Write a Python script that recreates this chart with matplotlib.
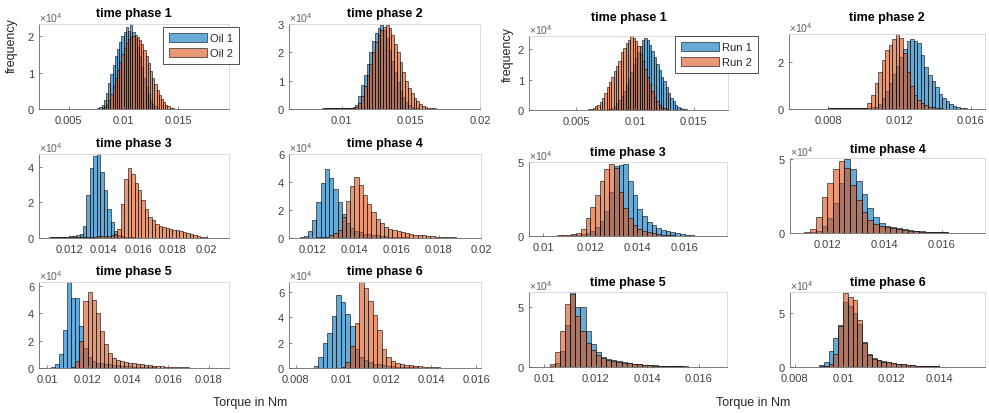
import matplotlib
matplotlib.use("Agg")
import matplotlib.pyplot as plt
import numpy as np
from matplotlib.patches import Patch

plt.rcParams['font.family'] = ['Liberation Sans', 'DejaVu Sans']
plt.rcParams['mathtext.fontset'] = 'custom'
plt.rcParams['mathtext.rm'] = 'Liberation Sans'

# ---------------- data (bin counts in units of 1e4, bin width 0.0002 Nm) ----------------
BIN = 0.0002
phase_titles = ['time phase 1', 'time phase 2', 'time phase 3',
                'time phase 4', 'time phase 5', 'time phase 6']
left_labels = ['Oil 1', 'Oil 2']
right_labels = ['Run 1', 'Run 2']

# Left group: Oil 1 / Oil 2
oil1_start = [0.0074, 0.0080, 0.0104, 0.0112, 0.0100, 0.0086]
oil1_p1 = [0.01, 0.02, 0.05, 0.12, 0.25, 0.45, 0.70, 0.95, 1.20, 1.45, 1.65, 1.85, 2.00, 2.10, 2.25,
           2.15, 2.33, 2.10, 1.95, 1.70, 1.45, 1.15, 0.85, 0.60, 0.40, 0.25, 0.14, 0.07, 0.03, 0.01]
oil1_p2 = [0.01, 0.01, 0.01, 0.02, 0.02, 0.02, 0.02, 0.02, 0.02, 0.02, 0.03, 0.03, 0.04, 0.05, 0.08,
           0.15, 0.45, 0.85, 1.20, 1.60, 2.00, 2.40, 2.70, 2.85, 2.95, 2.80, 2.50, 2.10, 1.70, 1.30,
           0.95, 0.65, 0.42, 0.26, 0.15, 0.08, 0.04, 0.02]
oil1_p3 = [0.02, 0.02, 0.03, 0.03, 0.04, 0.05, 0.06, 0.07, 0.09, 0.11, 0.15, 0.25, 0.67, 2.40, 3.90,
           4.60, 4.70, 3.70, 2.70, 1.60, 0.90, 0.40, 0.18, 0.10, 0.06, 0.04, 0.03, 0.02, 0.01]
oil1_p4 = [0.02, 0.04, 0.15, 0.50, 1.30, 2.60, 3.90, 4.95, 4.30, 3.50, 2.60, 1.70, 1.05, 0.70, 0.50,
           0.40, 0.32, 0.27, 0.22, 0.18, 0.15, 0.12, 0.10, 0.08, 0.06, 0.05, 0.04, 0.03, 0.02, 0.01]
oil1_p5 = [0.02, 0.05, 0.27, 1.00, 2.75, 6.30, 5.10, 5.10, 3.05, 1.50, 0.80, 0.50, 0.40, 0.34, 0.30,
           0.26, 0.22, 0.19, 0.16, 0.14, 0.12, 0.10, 0.08, 0.07, 0.06, 0.05, 0.04, 0.03, 0.02, 0.02, 0.01]
oil1_p6 = [0.03, 0.15, 0.90, 2.00, 2.80, 4.10, 5.75, 5.20, 4.30, 3.30, 1.50, 0.90, 0.60, 0.45, 0.35,
           0.28, 0.22, 0.18, 0.14, 0.11, 0.08, 0.06, 0.05, 0.04, 0.03, 0.02, 0.02, 0.01]

oil2_start = [0.0080, 0.0080, 0.0104, 0.0120, 0.0110, 0.0098]
oil2_p1 = [0.02, 0.05, 0.12, 0.25, 0.42, 0.62, 0.85, 1.08, 1.30, 1.50, 1.68, 1.82, 1.93, 1.98, 2.00,
           2.02, 1.98, 1.90, 1.78, 1.62, 1.45, 1.25, 1.05, 0.85, 0.68, 0.52, 0.38, 0.27, 0.18, 0.11,
           0.07, 0.04, 0.02, 0.01]
oil2_p2 = [0.01, 0.01, 0.01, 0.01, 0.02, 0.02, 0.02, 0.02, 0.02, 0.02, 0.02, 0.03, 0.03, 0.04, 0.05,
           0.06, 0.20, 0.45, 0.80, 1.20, 1.60, 2.00, 2.35, 2.60, 2.80, 2.90, 2.97, 2.85, 2.60, 2.30,
           2.00, 1.65, 1.30, 1.00, 0.75, 0.55, 0.40, 0.28, 0.19, 0.12, 0.08, 0.05, 0.03, 0.02]
oil2_p3 = [0.02, 0.02, 0.02, 0.03, 0.03, 0.03, 0.04, 0.04, 0.05, 0.05, 0.06, 0.06, 0.07, 0.07, 0.08,
           0.08, 0.09, 0.10, 0.11, 0.12, 0.14, 0.20, 0.50, 1.90, 3.30, 3.90, 3.60, 3.10, 2.70, 2.10,
           1.60, 1.20, 1.00, 0.80, 0.67, 0.62, 0.58, 0.52, 0.47, 0.42, 0.37, 0.32, 0.27, 0.22, 0.16,
           0.11, 0.07, 0.04, 0.02]
oil2_p4 = [0.03, 0.04, 0.06, 0.10, 0.20, 0.35, 0.60, 1.50, 2.65, 3.70, 4.35, 3.80, 3.10, 2.40, 1.85,
           1.35, 1.05, 0.80, 0.65, 0.55, 0.47, 0.40, 0.34, 0.29, 0.25, 0.21, 0.18, 0.15, 0.12, 0.10,
           0.08, 0.06, 0.05, 0.04, 0.03, 0.02, 0.02, 0.01]
oil2_p5 = [0.02, 0.10, 0.50, 2.00, 4.90, 5.60, 5.00, 4.00, 2.70, 1.75, 1.10, 0.75, 0.60, 0.52, 0.45,
           0.40, 0.35, 0.30, 0.26, 0.22, 0.19, 0.16, 0.14, 0.12, 0.10, 0.08, 0.07, 0.06, 0.05, 0.04,
           0.03, 0.03, 0.02, 0.02, 0.01, 0.01]
oil2_p6 = [0.02, 0.08, 0.50, 1.75, 3.55, 6.80, 6.30, 5.30, 4.20, 3.00, 1.50, 0.85, 0.55, 0.42, 0.33,
           0.26, 0.20, 0.15, 0.12, 0.09, 0.07, 0.05, 0.04, 0.03, 0.02, 0.01]

# Right group: Run 1 / Run 2
run1_start = [0.0076, 0.0070, 0.0100, 0.0112, 0.0100, 0.0088]
run1_p1 = [0.02, 0.04, 0.08, 0.14, 0.22, 0.33, 0.47, 0.63, 0.82, 1.02, 1.25, 1.48, 1.70, 1.90, 2.10,
           2.30, 2.36, 2.30, 2.15, 1.95, 1.75, 1.50, 1.30, 1.10, 0.95, 0.75, 0.55, 0.40, 0.28, 0.17,
           0.11, 0.06, 0.04, 0.02, 0.01]
run1_p2 = [0.01, 0.01, 0.02, 0.02, 0.02, 0.03, 0.03, 0.03, 0.03, 0.03, 0.03, 0.03, 0.03, 0.04, 0.04,
           0.05, 0.06, 0.08, 0.10, 0.22, 0.45, 0.75, 1.10, 1.50, 1.85, 2.20, 2.57, 2.90, 2.97, 2.90,
           2.80, 2.30, 1.80, 1.45, 1.20, 0.93, 0.65, 0.48, 0.36, 0.22, 0.14, 0.08, 0.05, 0.03, 0.02, 0.01]
run1_p3 = [0.01, 0.01, 0.01, 0.01, 0.01, 0.02, 0.04, 0.07, 0.12, 0.20, 0.35, 0.60, 1.00, 1.70, 3.00,
           4.72, 4.80, 4.88, 3.69, 2.76, 1.84, 1.34, 0.92, 0.72, 0.55, 0.42, 0.32, 0.24, 0.17, 0.12,
           0.08, 0.05, 0.03, 0.02, 0.01]
run1_p4 = [0.02, 0.05, 0.15, 0.45, 1.00, 2.00, 3.40, 5.00, 4.30, 3.50, 2.60, 1.70, 1.10, 0.70, 0.50,
           0.40, 0.32, 0.25, 0.20, 0.16, 0.12, 0.09, 0.07, 0.05, 0.04, 0.03, 0.02, 0.01]
run1_p5 = [0.01, 0.05, 0.30, 1.30, 3.50, 6.20, 5.00, 5.00, 3.00, 1.90, 1.20, 0.86, 0.64, 0.55, 0.47,
           0.40, 0.33, 0.28, 0.24, 0.20, 0.17, 0.14, 0.12, 0.10, 0.08, 0.07, 0.06, 0.05, 0.04, 0.03,
           0.02, 0.02, 0.01]
run1_p6 = [0.03, 0.15, 0.45, 1.50, 2.70, 3.90, 6.00, 5.60, 5.00, 4.00, 2.30, 1.20, 0.85, 0.65, 0.52,
           0.43, 0.36, 0.30, 0.25, 0.20, 0.16, 0.13, 0.10, 0.08, 0.06, 0.05, 0.04, 0.03, 0.02, 0.01]

run2_start = [0.0060, 0.0070, 0.0100, 0.0110, 0.0100, 0.0088]
run2_p1 = [0.02, 0.04, 0.07, 0.12, 0.18, 0.27, 0.38, 0.55, 0.75, 0.92, 1.10, 1.28, 1.45, 1.60, 1.90,
           2.05, 2.20, 2.30, 2.42, 2.35, 2.25, 2.10, 1.85, 1.60, 1.35, 1.10, 0.85, 0.62, 0.42, 0.28,
           0.17, 0.10, 0.05, 0.03, 0.01]
run2_p2 = [0.01, 0.01, 0.02, 0.02, 0.02, 0.03, 0.03, 0.03, 0.03, 0.03, 0.03, 0.03, 0.04, 0.04, 0.05,
           0.05, 0.25, 0.60, 1.10, 1.60, 2.10, 2.50, 2.75, 3.00, 3.20, 3.05, 2.40, 1.60, 1.00, 0.60,
           0.38, 0.24, 0.15, 0.10, 0.07, 0.05, 0.03, 0.02, 0.01]
run2_p3 = [0.01, 0.02, 0.03, 0.04, 0.06, 0.08, 0.12, 0.20, 0.45, 1.20, 1.95, 2.80, 3.70, 4.50, 4.88,
           4.60, 3.00, 1.90, 1.20, 0.75, 0.50, 0.35, 0.25, 0.18, 0.13, 0.09, 0.06, 0.04, 0.03, 0.02, 0.01]
run2_p4 = [0.02, 0.08, 0.30, 1.10, 2.40, 3.40, 4.30, 4.86, 4.40, 3.20, 2.20, 1.40, 0.90, 0.62, 0.48,
           0.38, 0.31, 0.25, 0.20, 0.16, 0.13, 0.10, 0.08, 0.06, 0.05, 0.04, 0.03, 0.02, 0.01]
run2_p5 = [0.03, 0.22, 1.20, 3.00, 5.20, 6.06, 4.20, 3.00, 2.00, 1.40, 1.00, 0.75, 0.60, 0.50, 0.42,
           0.35, 0.30, 0.25, 0.21, 0.18, 0.15, 0.12, 0.10, 0.08, 0.07, 0.06, 0.05, 0.04, 0.03, 0.02,
           0.02, 0.01]
run2_p6 = [0.02, 0.05, 0.12, 0.25, 1.20, 3.77, 6.84, 6.40, 6.20, 4.30, 2.20, 1.10, 0.75, 0.60, 0.50,
           0.42, 0.35, 0.29, 0.24, 0.20, 0.16, 0.13, 0.10, 0.08, 0.06, 0.05, 0.04, 0.03, 0.02, 0.01]

oil1 = [oil1_p1, oil1_p2, oil1_p3, oil1_p4, oil1_p5, oil1_p6]
oil2 = [oil2_p1, oil2_p2, oil2_p3, oil2_p4, oil2_p5, oil2_p6]
run1 = [run1_p1, run1_p2, run1_p3, run1_p4, run1_p5, run1_p6]
run2 = [run2_p1, run2_p2, run2_p3, run2_p4, run2_p5, run2_p6]

# x tick values per panel
left_xticks = [[0.005, 0.01, 0.015], [0.01, 0.015, 0.02],
               [0.012, 0.014, 0.016, 0.018, 0.02], [0.012, 0.014, 0.016, 0.018, 0.02],
               [0.01, 0.012, 0.014, 0.016, 0.018], [0.008, 0.01, 0.012, 0.014, 0.016]]
right_xticks = [[0.005, 0.01, 0.015], [0.008, 0.012, 0.016],
                [0.01, 0.012, 0.014, 0.016], [0.012, 0.014, 0.016],
                [0.01, 0.012, 0.014, 0.016], [0.008, 0.01, 0.012, 0.014]]
left_yticks = [[0, 1, 2], [0, 1, 2, 3], [0, 2, 4], [0, 2, 4, 6], [0, 2, 4, 6], [0, 2, 4, 6]]
right_yticks = [[0, 1, 2], [0, 2], [0, 5], [0, 5], [0, 5], [0, 5]]

# ---------------- layout ----------------
W, H = 989, 414
left_boxes = [(39, 25, 229, 110), (289, 25, 480, 110), (39, 155, 229, 239),
              (289, 155, 481, 239), (39, 283, 229, 369), (289, 283, 481, 369)]
right_boxes = [(529, 37, 728, 111), (789, 35, 985, 110), (529, 163, 727, 237),
               (790, 159, 985, 234), (529, 293, 727, 368), (790, 293, 985, 368)]
left_xlims = [(0.0023, 0.0196), (0.0062, 0.0200), (0.01024, 0.02129),
              (0.0109, 0.0200), (0.0096, 0.0190), (0.0077, 0.0162)]
right_xlims = [(0.0010, 0.0179), (0.0058, 0.0168), (0.0094, 0.0178),
               (0.0107, 0.0175), (0.0094, 0.0171), (0.0078, 0.0159)]
left_ytop = [2.33, 3.0, 4.7, 6.0, 6.3, 6.8]
right_ytop = [2.43, 3.2, 5.0, 5.05, 6.2, 6.9]
left_title_off = [11, 11, 11, 11, 11, 11]
right_title_off = [19, 17, 10, 9, 10, 10]

BLUE = (0.0, 0.447, 0.741)
ORANGE = (0.85, 0.325, 0.098)
FACE_A = 0.6
EDGE = (0, 0, 0, 0.8)
TXT = '#262626'

fig = plt.figure(figsize=(W / 100, H / 100), dpi=100)


def make_axes(box):
    l, t, r, b = box
    return fig.add_axes([l / W, 1 - b / H, (r - l) / W, (b - t) / H])


def draw_hist(ax, start, counts, color, label):
    counts = np.asarray(counts, dtype=float) * 1e4
    edges = start + BIN * np.arange(len(counts) + 1)
    ax.hist(edges[:-1] + BIN / 2, bins=edges, weights=counts,
            facecolor=(*color, FACE_A), edgecolor=EDGE, linewidth=0.5, label=label)


def style_axes(ax, xlim, ytop, xticks, yticks, title, toff):
    ax.set_xlim(*xlim)
    ax.set_ylim(0, ytop * 1e4)
    ax.set_xticks(xticks)
    ax.set_xticklabels([f'{v:g}' for v in xticks])
    ax.set_yticks([v * 1e4 for v in yticks])
    ax.set_yticklabels([f'{v:g}' for v in yticks])
    ax.tick_params(direction='in', length=2.2, width=0.5, colors='#555555',
                   labelsize=8, labelcolor='#404040')
    ax.tick_params(axis='x', pad=4.2)
    ax.tick_params(axis='y', pad=3.5)
    for s in ['left', 'bottom']:
        ax.spines[s].set_color('#666666')
        ax.spines[s].set_linewidth(0.6)
    for s in ['top', 'right']:
        ax.spines[s].set_color('#d4d4d4')
        ax.spines[s].set_linewidth(0.6)
    ax.text(0.0, 1.0, r'$\times\mathregular{10^{4}}$', transform=ax.transAxes,
            ha='left', va='bottom', fontsize=7.5, color='#606060')
    ax.annotate(title, xy=(0.5, 1.0), xycoords='axes fraction',
                xytext=(0, toff * 0.72), textcoords='offset points',
                ha='center', va='center', fontsize=9, fontweight='bold', color='black')


left_axes = []
for i in range(6):
    ax = make_axes(left_boxes[i])
    draw_hist(ax, oil1_start[i], oil1[i], BLUE, left_labels[0])
    draw_hist(ax, oil2_start[i], oil2[i], ORANGE, left_labels[1])
    style_axes(ax, left_xlims[i], left_ytop[i], left_xticks[i], left_yticks[i],
               phase_titles[i], left_title_off[i])
    left_axes.append(ax)

right_axes = []
for i in range(6):
    ax = make_axes(right_boxes[i])
    draw_hist(ax, run1_start[i], run1[i], BLUE, right_labels[0])
    draw_hist(ax, run2_start[i], run2[i], ORANGE, right_labels[1])
    style_axes(ax, right_xlims[i], right_ytop[i], right_xticks[i], right_yticks[i],
               phase_titles[i], right_title_off[i])
    right_axes.append(ax)


def add_legend(ax, labels, x0, y0):
    handles = [Patch(facecolor=(*BLUE, FACE_A), edgecolor=EDGE, linewidth=0.5),
               Patch(facecolor=(*ORANGE, FACE_A), edgecolor=EDGE, linewidth=0.5)]
    leg = ax.legend(handles, labels, loc='upper left',
                    bbox_to_anchor=(x0 / W, 1 - y0 / H), bbox_transform=fig.transFigure,
                    fontsize=8, frameon=True, fancybox=False, borderaxespad=0,
                    handlelength=3.5, handleheight=0.95, handletextpad=0.25,
                    labelspacing=0.4, borderpad=0.5)
    fr = leg.get_frame()
    fr.set_edgecolor('#333333')
    fr.set_linewidth(0.6)
    fr.set_alpha(1)
    for t in leg.get_texts():
        t.set_color(TXT)


add_legend(left_axes[0], left_labels, 163, 28)
add_legend(right_axes[0], right_labels, 675, 37)

fig.text(12 / W, 1 - 46 / H, 'frequency', rotation=90, ha='center', va='center',
         fontsize=9, color=TXT)
fig.text(508 / W, 1 - 55 / H, 'frequency', rotation=90, ha='center', va='center',
         fontsize=9, color=TXT)
fig.text(250 / W, 1 - 403 / H, 'Torque in Nm', ha='center', va='center', fontsize=9, color=TXT)
fig.text(753 / W, 1 - 403 / H, 'Torque in Nm', ha='center', va='center', fontsize=9, color=TXT)

fig.savefig('out.png', dpi=100)
